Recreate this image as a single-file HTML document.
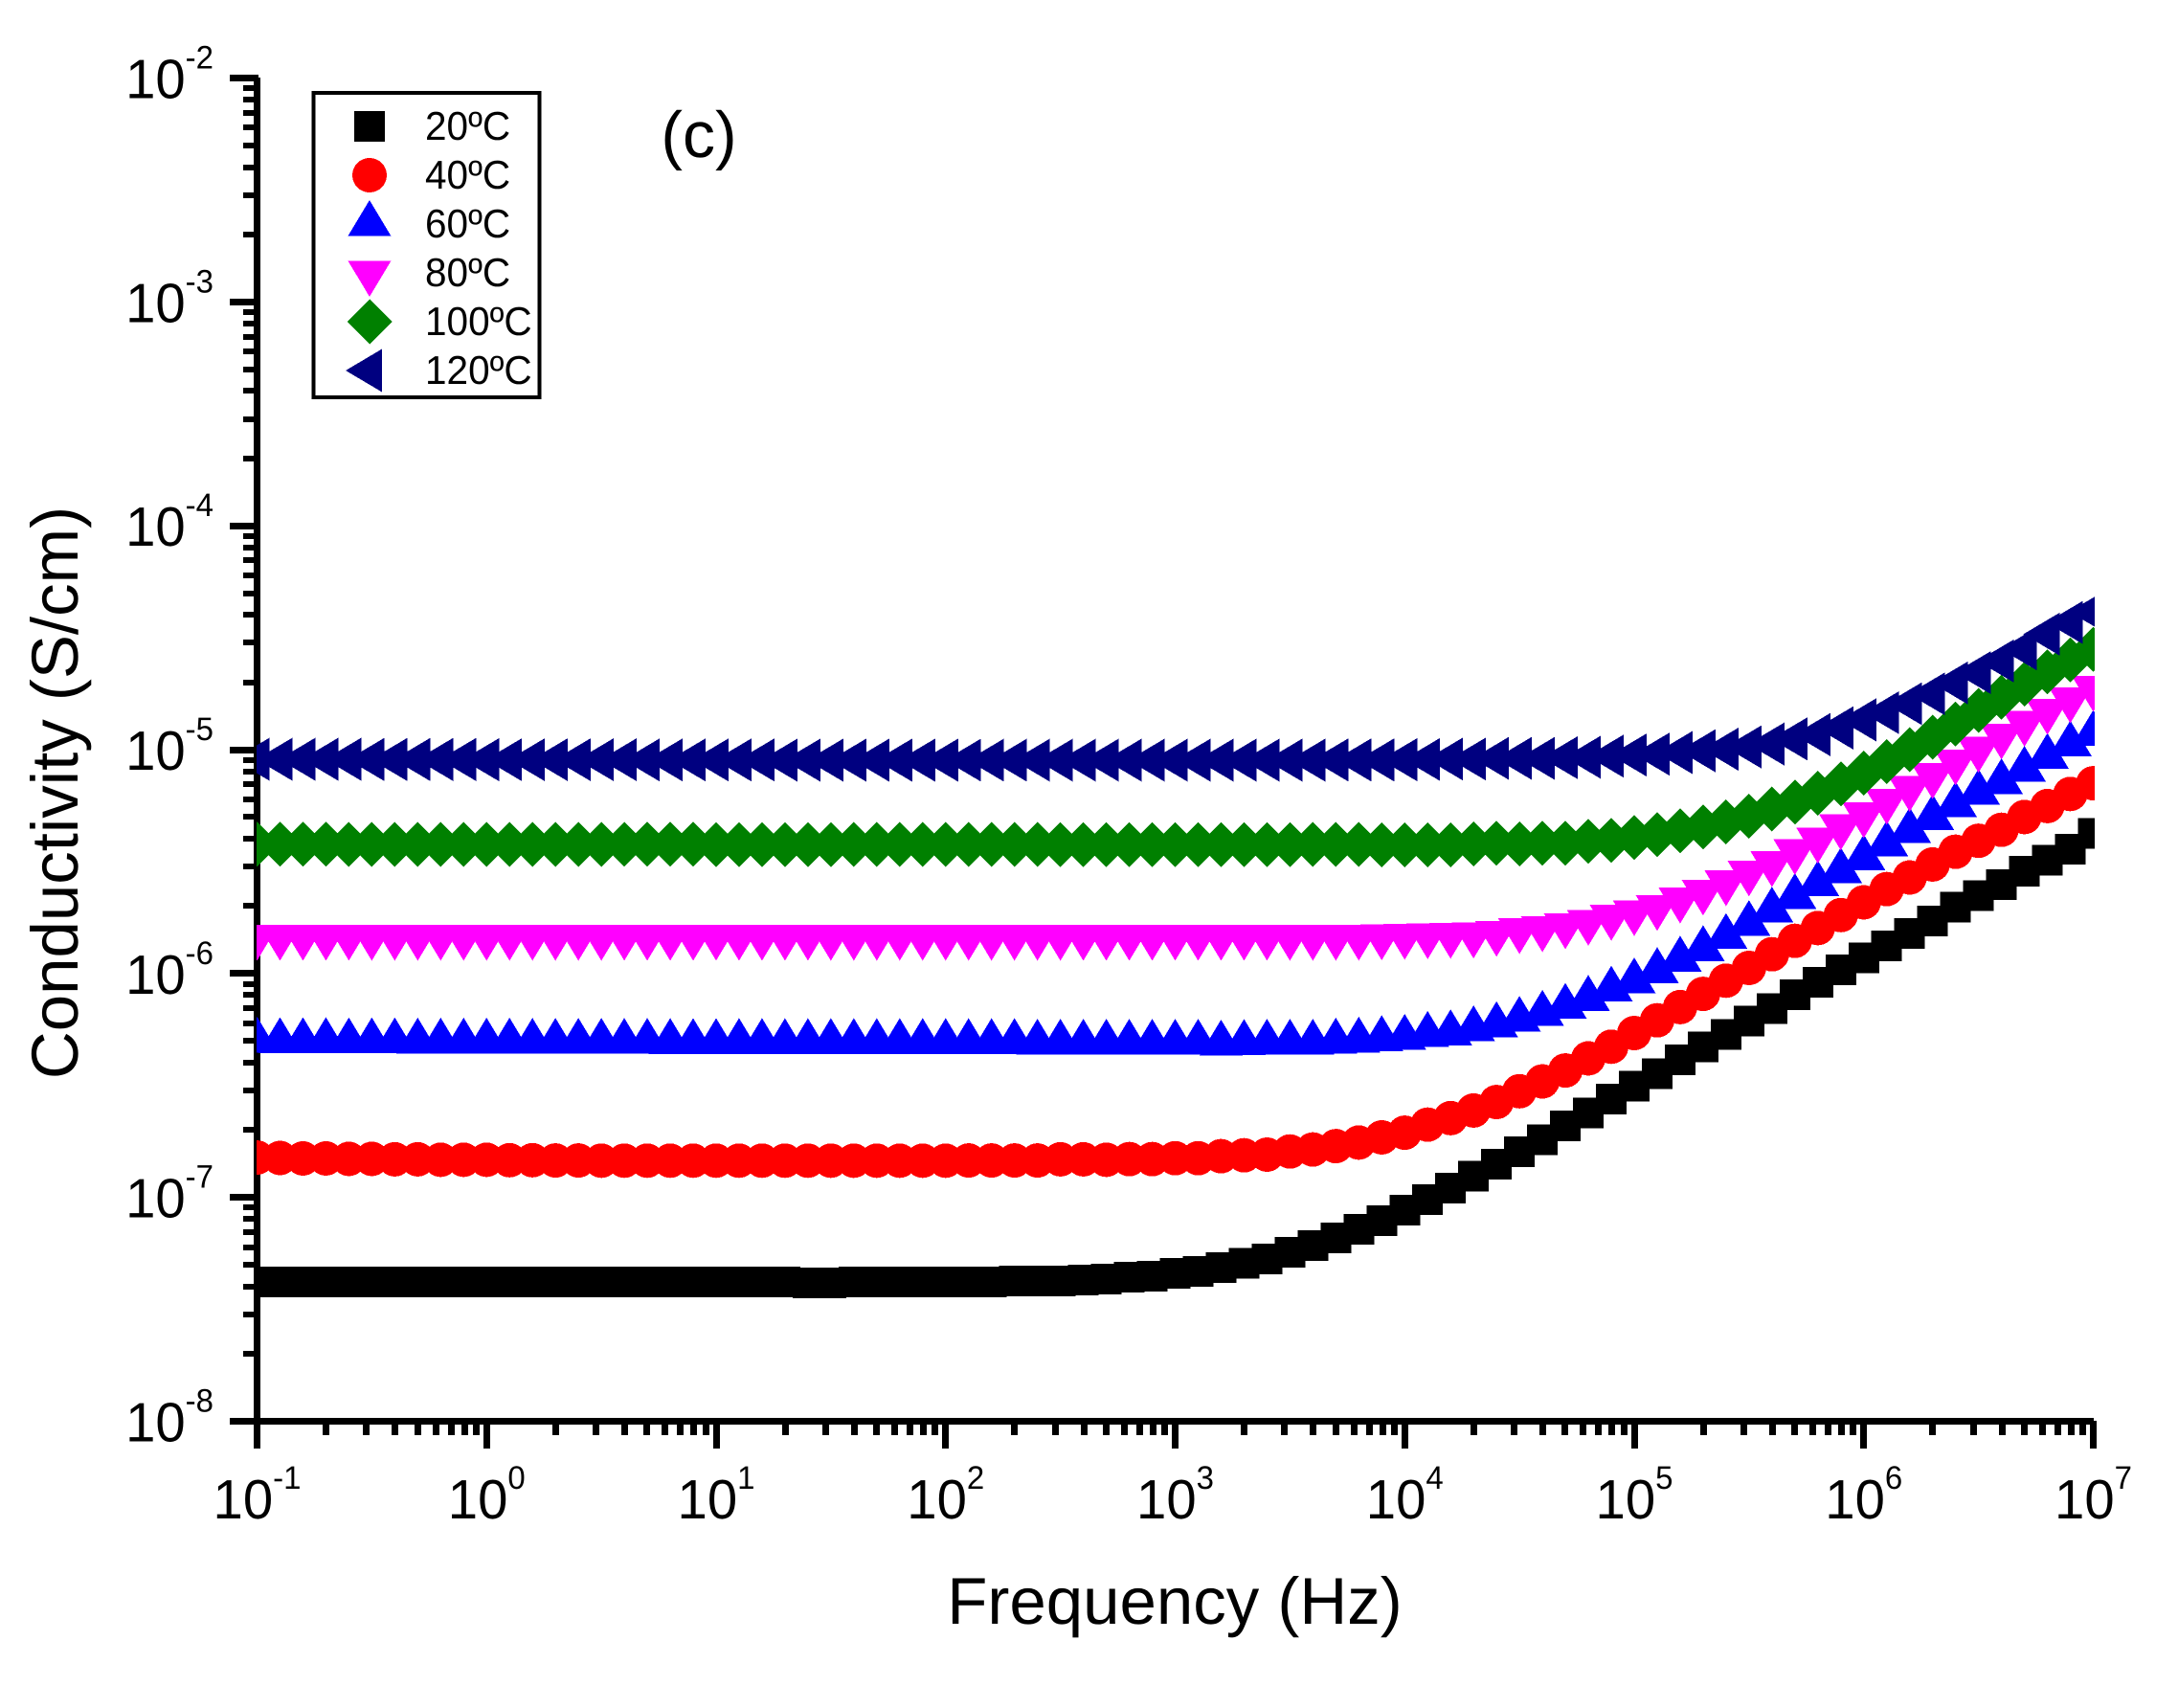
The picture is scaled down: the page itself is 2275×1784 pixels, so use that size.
<!DOCTYPE html>
<html lang="en">
<head>
<meta charset="utf-8">
<title>Conductivity vs Frequency</title>
<style>
  html, body { margin: 0; padding: 0; background: #ffffff; }
  #chart { display: block; position: absolute; left: 0; top: 0; }
  text { font-family: "Liberation Sans", Arial, sans-serif; fill: #000000; text-rendering: geometricPrecision; }
</style>
</head>
<body>
<svg id="chart" xmlns="http://www.w3.org/2000/svg" width="2275" height="1784" viewBox="0 0 2275 1784">
  <defs>
    <clipPath id="plot-clip"><rect x="268" y="78" width="1920" height="1403"></rect></clipPath>
  </defs>
  <rect x="0" y="0" width="2275" height="1784" fill="#ffffff"></rect>
  <g id="axes" shape-rendering="crispEdges"></g>
  <g id="tick-labels"></g>
  <g id="series" clip-path="url(#plot-clip)" shape-rendering="crispEdges"></g>
  <text x="1227" y="1696" font-size="69" text-anchor="middle">Frequency (Hz)</text>
  <text transform="translate(81,828) rotate(-90)" font-size="69" text-anchor="middle">Conductivity (S/cm)</text>
  <text x="730" y="164" font-size="68" text-anchor="middle">(c)</text>
  <g id="legend">
    <rect x="327.5" y="97" width="236" height="318" fill="#ffffff" stroke="#000000" stroke-width="3.6" shape-rendering="crispEdges"></rect>
  </g>
</svg>
<script>
// x positions: log10 of frequency (Hz), 10 points per decade
const logFrequency = [
  -1.0,-0.9,-0.8,-0.7,-0.6,-0.5,-0.4,-0.3,-0.2,-0.1,
  0.0,0.1,0.2,0.3,0.4,0.5,0.6,0.7,0.8,0.9,
  1.0,1.1,1.2,1.3,1.4,1.5,1.6,1.7,1.8,1.9,
  2.0,2.1,2.2,2.3,2.4,2.5,2.6,2.7,2.8,2.9,
  3.0,3.1,3.2,3.3,3.4,3.5,3.6,3.7,3.8,3.9,
  4.0,4.1,4.2,4.3,4.4,4.5,4.6,4.7,4.8,4.9,
  5.0,5.1,5.2,5.3,5.4,5.5,5.6,5.7,5.8,5.9,
  6.0,6.1,6.2,6.3,6.4,6.5,6.6,6.7,6.8,6.9,
  7.0
];
// series: log10 of conductivity (S/cm)
const logSigma20C = [
  -7.377,-7.377,-7.377,-7.377,-7.377,-7.377,-7.377,-7.377,-7.377,-7.377,
  -7.377,-7.377,-7.377,-7.377,-7.377,-7.377,-7.377,-7.377,-7.377,-7.377,
  -7.377,-7.377,-7.377,-7.377,-7.381,-7.381,-7.377,-7.377,-7.377,-7.377,
  -7.377,-7.377,-7.377,-7.374,-7.374,-7.374,-7.369,-7.365,-7.356,-7.352,
  -7.339,-7.331,-7.314,-7.295,-7.275,-7.245,-7.215,-7.181,-7.143,-7.104,
  -7.057,-7.010,-6.959,-6.905,-6.851,-6.797,-6.742,-6.681,-6.622,-6.561,
  -6.503,-6.447,-6.386,-6.327,-6.272,-6.213,-6.157,-6.095,-6.039,-5.984,
  -5.931,-5.877,-5.822,-5.766,-5.704,-5.653,-5.604,-5.543,-5.494,-5.445,
  -5.375
];
const logSigma40C = [
  -6.822,-6.824,-6.826,-6.826,-6.828,-6.828,-6.830,-6.830,-6.832,-6.832,
  -6.832,-6.834,-6.834,-6.835,-6.835,-6.836,-6.836,-6.836,-6.836,-6.836,
  -6.836,-6.836,-6.836,-6.836,-6.836,-6.836,-6.836,-6.836,-6.836,-6.836,
  -6.836,-6.835,-6.835,-6.835,-6.835,-6.830,-6.830,-6.832,-6.829,-6.829,
  -6.825,-6.825,-6.816,-6.812,-6.809,-6.795,-6.786,-6.771,-6.755,-6.732,
  -6.711,-6.675,-6.646,-6.612,-6.574,-6.526,-6.482,-6.433,-6.379,-6.327,
  -6.266,-6.209,-6.150,-6.091,-6.032,-5.975,-5.914,-5.854,-5.797,-5.739,
  -5.682,-5.623,-5.571,-5.513,-5.456,-5.407,-5.358,-5.301,-5.252,-5.198,
  -5.150
];
const logSigma60C = [
  -6.300,-6.302,-6.302,-6.302,-6.303,-6.303,-6.303,-6.304,-6.304,-6.304,
  -6.304,-6.304,-6.305,-6.305,-6.305,-6.305,-6.305,-6.305,-6.306,-6.306,
  -6.306,-6.306,-6.306,-6.306,-6.306,-6.306,-6.306,-6.306,-6.306,-6.306,
  -6.306,-6.306,-6.306,-6.306,-6.309,-6.309,-6.309,-6.309,-6.309,-6.309,
  -6.309,-6.309,-6.313,-6.310,-6.309,-6.309,-6.309,-6.304,-6.300,-6.293,
  -6.287,-6.274,-6.267,-6.249,-6.231,-6.207,-6.180,-6.149,-6.113,-6.072,
  -6.035,-5.989,-5.938,-5.891,-5.837,-5.779,-5.719,-5.658,-5.601,-5.544,
  -5.485,-5.423,-5.364,-5.305,-5.249,-5.193,-5.146,-5.090,-5.033,-4.977,
  -4.930
];
const logSigma80C = [
  -5.836,-5.836,-5.836,-5.836,-5.836,-5.836,-5.836,-5.836,-5.836,-5.836,
  -5.836,-5.836,-5.836,-5.836,-5.836,-5.836,-5.836,-5.836,-5.836,-5.836,
  -5.836,-5.836,-5.836,-5.836,-5.836,-5.836,-5.836,-5.836,-5.836,-5.836,
  -5.836,-5.836,-5.836,-5.836,-5.836,-5.836,-5.836,-5.836,-5.836,-5.836,
  -5.836,-5.836,-5.836,-5.836,-5.836,-5.836,-5.836,-5.836,-5.836,-5.834,
  -5.832,-5.829,-5.827,-5.826,-5.818,-5.806,-5.798,-5.785,-5.769,-5.747,
  -5.726,-5.703,-5.670,-5.634,-5.593,-5.549,-5.507,-5.453,-5.402,-5.343,
  -5.289,-5.228,-5.171,-5.114,-5.053,-4.996,-4.937,-4.880,-4.827,-4.775,
  -4.724
];
const logSigma100C = [
  -5.423,-5.423,-5.423,-5.423,-5.423,-5.423,-5.423,-5.423,-5.423,-5.423,
  -5.423,-5.423,-5.423,-5.423,-5.423,-5.423,-5.423,-5.423,-5.423,-5.423,
  -5.424,-5.424,-5.424,-5.424,-5.424,-5.424,-5.424,-5.424,-5.424,-5.424,
  -5.424,-5.424,-5.424,-5.424,-5.424,-5.424,-5.424,-5.424,-5.424,-5.424,
  -5.424,-5.424,-5.424,-5.424,-5.424,-5.424,-5.424,-5.424,-5.424,-5.425,
  -5.425,-5.426,-5.426,-5.421,-5.418,-5.421,-5.418,-5.418,-5.410,-5.405,
  -5.392,-5.379,-5.362,-5.346,-5.323,-5.297,-5.265,-5.234,-5.195,-5.153,
  -5.105,-5.054,-5.000,-4.945,-4.886,-4.825,-4.766,-4.707,-4.652,-4.599,
  -4.552
];
const logSigma120C = [
  -5.043,-5.043,-5.043,-5.043,-5.043,-5.044,-5.044,-5.044,-5.044,-5.044,
  -5.045,-5.045,-5.045,-5.045,-5.045,-5.045,-5.045,-5.046,-5.046,-5.046,
  -5.046,-5.046,-5.046,-5.047,-5.047,-5.047,-5.047,-5.047,-5.047,-5.047,
  -5.047,-5.047,-5.047,-5.047,-5.047,-5.047,-5.047,-5.047,-5.047,-5.047,
  -5.047,-5.047,-5.047,-5.047,-5.047,-5.047,-5.047,-5.046,-5.046,-5.046,
  -5.045,-5.044,-5.042,-5.042,-5.039,-5.039,-5.039,-5.036,-5.034,-5.029,
  -5.024,-5.020,-5.013,-5.005,-4.998,-4.988,-4.975,-4.952,-4.933,-4.903,
  -4.867,-4.835,-4.795,-4.751,-4.702,-4.656,-4.604,-4.550,-4.484,-4.432,
  -4.384
];
const seriesNames = ['20ºC','40ºC','60ºC','80ºC','100ºC','120ºC'];
const seriesValues = [logSigma20C, logSigma40C, logSigma60C, logSigma80C, logSigma100C, logSigma120C];
const seriesColors = ['#000000','#ff0000','#0000ff','#ff00ff','#008000','#000080'];
const seriesShapes = ['square','circle','up','down','diamond','left'];
const xTickExponents = ['-1','0','1','2','3','4','5','6','7'];
const yTickExponents = ['-8','-7','-6','-5','-4','-3','-2'];
const minorMultipliers = [2,3,4,5,6,7,8,9];

const SVG_NS = 'http://www.w3.org/2000/svg';
const X_MIN = -1, X_MAX = 7, Y_MIN = -8, Y_MAX = -2;
const PX_LEFT = 268.5, PX_RIGHT = 2186.5, PX_BOTTOM = 1484.5, PX_TOP = 81.5;
function xScale(v) { return PX_LEFT + (v - X_MIN) / (X_MAX - X_MIN) * (PX_RIGHT - PX_LEFT); }
function yScale(v) { return PX_BOTTOM - (v - Y_MIN) / (Y_MAX - Y_MIN) * (PX_BOTTOM - PX_TOP); }

function make(tag) { return document.createElementNS(SVG_NS, tag); }
function box(parent, x, y, w, h) {
  const r = make('rect');
  r.setAttribute('x', x);
  r.setAttribute('y', y);
  r.setAttribute('width', w);
  r.setAttribute('height', h);
  r.setAttribute('fill', '#000000');
  parent.appendChild(r);
  return r;
}
function marker(shape, cx, cy, color) {
  let el;
  if (shape === 'square') {
    el = make('rect');
    el.setAttribute('x', cx - 16);
    el.setAttribute('y', cy - 16);
    el.setAttribute('width', 32);
    el.setAttribute('height', 32);
  } else if (shape === 'circle') {
    el = make('circle');
    el.setAttribute('cx', cx);
    el.setAttribute('cy', cy);
    el.setAttribute('r', 18);
  } else {
    el = make('polygon');
    let pts;
    if (shape === 'up') pts = [[cx, cy - 25], [cx + 22.5, cy + 12.5], [cx - 22.5, cy + 12.5]];
    if (shape === 'down') pts = [[cx, cy + 25], [cx + 22.5, cy - 12.5], [cx - 22.5, cy - 12.5]];
    if (shape === 'diamond') pts = [[cx, cy - 23.5], [cx + 23.5, cy], [cx, cy + 23.5], [cx - 23.5, cy]];
    if (shape === 'left') pts = [[cx - 25, cy], [cx + 13, cy - 22.5], [cx + 13, cy + 22.5]];
    el.setAttribute('points', pts.map(function (p) { return p.join(','); }).join(' '));
  }
  el.setAttribute('fill', color);
  return el;
}
function tickLabel(parent, x, y, exponent, anchor) {
  const t = make('text');
  t.setAttribute('transform', 'translate(' + x + ',' + y + ') scale(0.97,1)');
  t.setAttribute('font-size', '58');
  t.setAttribute('text-anchor', anchor);
  const base = make('tspan');
  base.textContent = '10';
  t.appendChild(base);
  const sup = make('tspan');
  sup.setAttribute('font-size', '34');
  sup.setAttribute('dy', '-31');
  sup.textContent = exponent;
  t.appendChild(sup);
  parent.appendChild(t);
  return t;
}

const axesGroup = document.getElementById('axes');
const labelsGroup = document.getElementById('tick-labels');
const seriesGroup = document.getElementById('series');
const legendGroup = document.getElementById('legend');

// axis lines
const yAxisLine = box(axesGroup, 265, 81, 7, 1432);


const xAxisLine = box(axesGroup, 240, 1481, 1947, 7);



// y ticks
yTickExponents.forEach(function (label, k) {
  const e = Number(label);
  const py = yScale(e);
  const major = box(axesGroup, 240, Math.round(py - 3.5), 30, 7);
  
  
  const text = tickLabel(labelsGroup, 223, py + 21, label, 'end');
  
  
  if (k < yTickExponents.length - 1) {
    minorMultipliers.forEach(function (m) {
      const my = yScale(e + Math.log10(m));
      const minor = box(axesGroup, 254, Math.round(my - 3), 12, 6);
      
      
    });
  }
});

// x ticks
xTickExponents.forEach(function (label, k) {
  const e = Number(label);
  const px = xScale(e);
  const major = box(axesGroup, Math.round(px - 3.5), 1484, 7, 29);
  
  
  const text = tickLabel(labelsGroup, px, 1586, label, 'middle');
  
  
  if (k < xTickExponents.length - 1) {
    minorMultipliers.forEach(function (m) {
      const mx = xScale(e + Math.log10(m));
      const minor = box(axesGroup, Math.round(mx - 3.5), 1486, 7, 13);
      
      
    });
  }
});

// series
seriesValues.forEach(function (values, s) {
  const g = make('g');
  
  
  values.forEach(function (v, i) {
    const m = marker(seriesShapes[s], xScale(logFrequency[i]), yScale(v), seriesColors[s]);
    
    
    g.appendChild(m);
  });
  seriesGroup.appendChild(g);
});

// legend entries
seriesNames.forEach(function (name, s) {
  const cy = 132 + 51 * s;
  const key = marker(seriesShapes[s], 386, cy, seriesColors[s]);
  key.setAttribute('shape-rendering', 'crispEdges');
  
  
  legendGroup.appendChild(key);
  const t = make('text');
  t.setAttribute('transform', 'translate(444,' + (cy + 14) + ') scale(0.965,1)');
  t.setAttribute('font-size', '42');
  t.textContent = name;
  
  
  legendGroup.appendChild(t);
});
</script>
</body>
</html>
